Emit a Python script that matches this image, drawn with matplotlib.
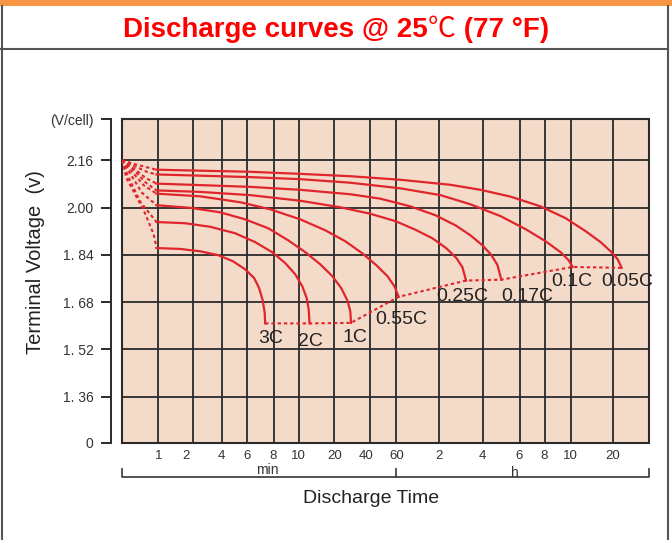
import numpy as np
import matplotlib
matplotlib.use('Agg')
import matplotlib.pyplot as plt
from matplotlib.lines import Line2D
from matplotlib.patches import Rectangle
from matplotlib.transforms import ScaledTranslation
from matplotlib.offsetbox import TextArea, HPacker, AnchoredOffsetbox

plt.rcParams['font.family'] = ['Liberation Sans', 'DejaVu Sans']

# hand drawn time axis: minutes -> position of the grid line (px from left edge)
grid_t = [0, 1, 2, 4, 6, 8, 10, 20, 40, 60, 120, 240, 360, 480, 600, 1200, 1800]
grid_pos = [0, 36.3, 71.3, 99.7, 125.3, 151.3, 176.3, 212, 247.3, 274, 317, 360.3, 397, 422, 448, 490.3, 526.3]
x_ticks = [1, 2, 4, 6, 8, 10, 20, 40, 60, 120, 240, 360, 480, 600, 1200]
x_labels = ['1', '2', '4', '6', '8', '10', '20', '40', '60', '2', '4', '6', '8', '10', '20']

v_ticks = [1.36, 1.52, 1.68, 1.84, 2.00, 2.16]
v_labels = ['1. 36', '1. 52', '1. 68', '1. 84', '2.00', '2.16']
v_bottom = 1.36 - 0.16 * 46 / 47
v_top = 2.16 + 0.16 * 41 / 47

rates = ['3C', '2C', '1C', '0.55C', '0.25C', '0.17C', '0.1C', '0.05C']

# dotted start of each curve (t in min, V/cell)
init_t = [[0, 0.12, 0.6, 0.87, 0.95],
          [0, 0.15, 0.5, 0.95],
          [0, 0.2, 0.55, 0.95],
          [0, 0.25, 0.6, 0.95],
          [0, 0.3, 0.65, 0.95],
          [0, 0.3, 0.65, 0.95],
          [0, 0.35, 0.7, 0.95],
          [0, 0.4, 0.95]]
init_v = [[2.16, 2.10, 1.99, 1.91, 1.863],
          [2.16, 2.11, 2.02, 1.951],
          [2.16, 2.12, 2.05, 2.008],
          [2.16, 2.125, 2.075, 2.047],
          [2.16, 2.13, 2.085, 2.058],
          [2.16, 2.135, 2.10, 2.081],
          [2.16, 2.14, 2.12, 2.112],
          [2.16, 2.145, 2.128]]

# solid discharge curves
t_3c = [0.95, 1.62, 2.47, 3.74, 4.88, 5.82, 6.52, 6.9, 7.17, 7.32, 7.36]
v_3c = [1.863, 1.860, 1.852, 1.839, 1.818, 1.791, 1.761, 1.727, 1.686, 1.646, 1.608]
t_2c = [0.95, 1.76, 3.18, 5.04, 6.59, 7.9, 8.94, 9.74, 11.04, 12.3, 12.86, 13.08]
v_2c = [1.951, 1.947, 1.935, 1.913, 1.883, 1.849, 1.812, 1.774, 1.734, 1.693, 1.653, 1.608]
t_1c = [0.95, 1.91, 3.88, 5.82, 7.59, 9.18, 11.88, 16.08, 19.44, 23.97, 27.4, 29.07, 29.46]
v_1c = [2.008, 1.999, 1.984, 1.960, 1.930, 1.889, 1.849, 1.808, 1.768, 1.727, 1.686, 1.649, 1.610]
t_055c = [0.95, 2.47, 5.43, 7.75, 10.48, 17.5, 26.2, 35.9, 45.0, 53.3, 58.5, 63.2]
v_055c = [2.047, 2.038, 2.018, 1.994, 1.960, 1.923, 1.886, 1.845, 1.805, 1.768, 1.734, 1.698]
t_025c = [0.95, 2.47, 6.21, 10.48, 23.3, 40.5, 59.3, 86.5, 110.2, 139.4, 167.1, 183.7, 193.7]
v_025c = [2.058, 2.053, 2.042, 2.023, 2.001, 1.979, 1.954, 1.925, 1.896, 1.862, 1.829, 1.798, 1.753]
t_017c = [0.95, 6.21, 10.48, 29.07, 48.0, 79.5, 114.4, 164.3, 205.9, 239.2, 268.4, 288.1, 300.5]
v_017c = [2.081, 2.070, 2.060, 2.045, 2.030, 2.004, 1.974, 1.940, 1.906, 1.872, 1.839, 1.805, 1.756]
t_01c = [0.95, 6.21, 10.48, 29.07, 65.6, 122.8, 205.9, 297.9, 388.8, 484.6, 553.8, 590.8, 628.4]
v_01c = [2.112, 2.103, 2.096, 2.084, 2.065, 2.042, 2.011, 1.971, 1.927, 1.886, 1.849, 1.822, 1.799]
t_005c = [0.95, 6.21, 10.48, 29.07, 65.6, 150.5, 233.6, 330.6, 460.8, 576.9, 812.8, 1025.5, 1167.4,
          1278.3, 1345]
v_005c = [2.128, 2.121, 2.114, 2.106, 2.094, 2.077, 2.060, 2.037, 2.004, 1.964, 1.920, 1.883, 1.852,
          1.825, 1.796]

curve_t = [t_3c, t_2c, t_1c, t_055c, t_025c, t_017c, t_01c, t_005c]
curve_v = [v_3c, v_2c, v_1c, v_055c, v_025c, v_017c, v_01c, v_005c]

# label offsets from curve end (px)
lab_dx = [5, 1, 4, 3, -4, 26, -1, 6]
lab_dy = [-15, -18, -15, -23, -16, -17, -15, -14]

W, H = 672, 540
fx = lambda x: x / W
fy = lambda y: 1 - y / H

red = '#e0252c'
ink = '#2a2a2a'

fig = plt.figure(figsize=(6.72, 5.4), dpi=100)
fig.patch.set_facecolor('white')

# page frame
fig.add_artist(Rectangle((0, fy(6)), 1, 6 / H, transform=fig.transFigure, color='#f79646', lw=0))
fig.add_artist(Line2D([fx(1.5), fx(1.5)], [fy(6), 0], color='#555555', lw=1.5))
fig.add_artist(Line2D([fx(668), fx(668)], [fy(6), 0], color='#555555', lw=1.5))
fig.add_artist(Line2D([0, fx(668)], [fy(49), fy(49)], color='#555555', lw=1.5))

# title, the degree sign drawn thin as in the original
tprops = dict(color='#ff0000', fontsize=20, fontweight='bold', family=['Liberation Sans', 'DejaVu Sans'])
cprops = dict(color='#ff0000', fontsize=20, fontweight='normal', family=['Noto Sans CJK SC', 'DejaVu Sans'])
title_box = HPacker(children=[TextArea('Discharge curves @ 25', textprops=tprops),
                              TextArea('\u2103', textprops=cprops),
                              TextArea(' (77 \u00b0F)', textprops=tprops)],
                    align='baseline', pad=0, sep=0)
fig.add_artist(AnchoredOffsetbox(loc='center', child=title_box, frameon=False, pad=0, borderpad=0,
                                 bbox_to_anchor=(fx(336), fy(29)), bbox_transform=fig.transFigure))

ax = fig.add_axes([fx(122), fy(443), (649 - 122) / W, (443 - 119) / H])
ax.set_facecolor('#f3dac9')

fwd = lambda t: np.interp(t, grid_t, grid_pos)
inv = lambda p: np.interp(p, grid_pos, grid_t)
ax.set_xscale('function', functions=(fwd, inv))
ax.set_xlim(0, 1800)
ax.set_ylim(v_bottom, v_top)

ax.set_xticks(x_ticks)
ax.set_xticklabels(x_labels)
ax.set_yticks([v_bottom] + v_ticks + [v_top])
ax.set_yticklabels(['0'] + v_labels + ['(V/cell)'])
ax.minorticks_off()
ax.grid(True, color=ink, lw=1.3)
ax.set_axisbelow(True)

for s in ['top', 'right', 'bottom']:
    ax.spines[s].set_visible(False)
ax.spines['left'].set_position(('outward', 8))
ax.spines['left'].set_color(ink)
ax.spines['left'].set_linewidth(1.4)
ax.add_patch(Rectangle((0, 0), 1, 1, transform=ax.transAxes, fill=False, ec=ink, lw=1.5,
                       clip_on=False, zorder=3))
ax.tick_params(axis='y', direction='out', length=7.5, width=1.4, color=ink, pad=5,
               labelsize=10, labelcolor='#333333')
ax.tick_params(axis='x', length=0, pad=5, labelsize=9.5, labelcolor='#333333')

# a few labels sit a little left of their grid line in the original
xl = ax.get_xticklabels()
for k, dx in [(1, -7), (7, -4)]:
    xl[k].set_transform(xl[k].get_transform() + ScaledTranslation(dx / 100, 0, fig.dpi_scale_trans))

for i, r in enumerate(rates):
    ax.plot(init_t[i], init_v[i], color=red, lw=1.5, ls=(0, (1.6, 1.4)), zorder=4)
    ax.plot(curve_t[i], curve_v[i], color=red, lw=1.6, zorder=4, solid_joinstyle='round')
    ax.annotate(r, (curve_t[i][-1], curve_v[i][-1]), xytext=(lab_dx[i], lab_dy[i]),
                textcoords='offset pixels', ha='center', va='center', fontsize=14,
                color='#222222', zorder=5)

end_t = [c[-1] for c in curve_t]
end_v = [c[-1] for c in curve_v]
ax.plot(end_t, end_v, color=red, lw=1.5, ls=(0, (1.6, 1.4)), zorder=4)

# min / h bracket under the time axis
bt = ax.get_xaxis_transform()
ax.plot([0, 0, 1800, 1800], [-0.08, -0.105, -0.105, -0.08], color='#444444', lw=1.3,
        transform=bt, clip_on=False)
ax.plot([60, 60], [-0.105, -0.08], color='#444444', lw=1.3, transform=bt, clip_on=False)
ax.text(0.275, -0.083, 'min', transform=ax.transAxes, ha='center', va='center',
        fontsize=10, color='#333333')
ax.text(0.746, -0.093, 'h', transform=ax.transAxes, ha='center', va='center',
        fontsize=10, color='#333333')
ax.text(0.4725, -0.170, 'Discharge Time', transform=ax.transAxes, ha='center', va='center',
        fontsize=14, color='#222222')

fig.text(fx(36), fy(262), 'Terminal Voltage  (v)', rotation=90, ha='center', va='center',
         fontsize=14.5, color='#222222')

fig.savefig('out.png', dpi=100)
